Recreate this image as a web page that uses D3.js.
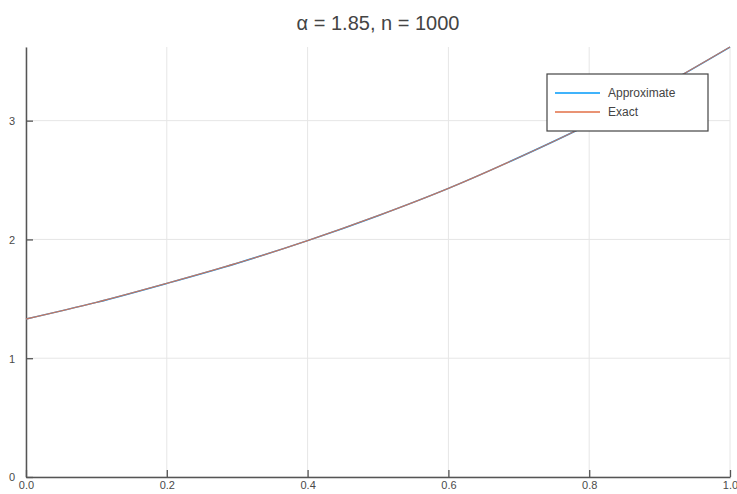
<!DOCTYPE html>
<html>
<head>
<meta charset="utf-8">
<script src="https://cdn.jsdelivr.net/npm/d3@7"></script>
<style>
  body { margin: 0; background: #fff; }
  text { font-family: "Liberation Sans", Arial, sans-serif; fill: #444; }
</style>
</head>
<body>
<script>
var width = 737, height = 494;
var margin = { top: 47, right: 7, bottom: 17, left: 26 };

// values
var xs = [0, 0.1, 0.2, 0.3, 0.4, 0.5, 0.6, 0.7, 0.8, 0.9, 1.0];
var approximate = [1.33, 1.47, 1.63, 1.80, 1.99, 2.20, 2.43, 2.69, 2.97, 3.28, 3.62];
var exact = [1.33, 1.47, 1.63, 1.80, 1.99, 2.20, 2.43, 2.69, 2.97, 3.28, 3.62];
var xTicks = [0, 0.2, 0.4, 0.6, 0.8, 1.0];
var yTicks = [0, 1, 2, 3];
var seriesNames = ['Approximate', 'Exact'];
var seriesColors = ['#009afa', '#e26f46'];

var svg = d3.select('body').append('svg')
  .attr('width', width)
  .attr('height', height);

var x = d3.scaleLinear().domain([0, 1]).range([margin.left, width - margin.right]);
var y = d3.scaleLinear().domain([0, 3.62]).range([height - margin.bottom, margin.top]);

// grid
svg.append('g').selectAll('line.gx')
  .data(xTicks).enter().append('line')
  .attr('x1', d => x(d)).attr('x2', d => x(d))
  .attr('y1', y(0)).attr('y2', margin.top)
  .attr('stroke', '#e6e6e6').attr('stroke-width', 1);
svg.append('g').selectAll('line.gy')
  .data(yTicks).enter().append('line')
  .attr('x1', x(0)).attr('x2', x(1))
  .attr('y1', d => y(d)).attr('y2', d => y(d))
  .attr('stroke', '#e6e6e6').attr('stroke-width', 1);

// axes
var xAxis = d3.axisBottom(x).tickValues(xTicks).tickFormat(d3.format('.1f')).tickSizeInner(-7).tickSizeOuter(0);
var yAxis = d3.axisLeft(y).tickValues(yTicks).tickFormat(d3.format('d')).tickSizeInner(-7).tickSizeOuter(0);

var gx = svg.append('g').attr('transform', 'translate(0,' + y(0) + ')').call(xAxis);
gx.selectAll('text').attr('dy', null).attr('y', 12).style('font-size', '11px').style('fill', '#4a4a4a');
var gy = svg.append('g').attr('transform', 'translate(' + x(0) + ',0)').call(yAxis);
gy.selectAll('text').attr('x', -11).attr('dy', '0.35em').style('font-size', '11px').style('fill', '#4a4a4a');
svg.selectAll('.domain').attr('stroke', '#555').attr('stroke-width', 1.5);
svg.selectAll('.tick line').attr('stroke', '#555').attr('stroke-width', 1.3);

// lines
var line = d3.line()
  .x(function(d, i) { return x(xs[i]); })
  .y(function(d) { return y(d); })
  .curve(d3.curveMonotoneX);

svg.append('path').datum(approximate)
  .attr('d', line).attr('fill', 'none')
  .attr('stroke', seriesColors[0]).attr('stroke-width', 1.5);
svg.append('path').datum(exact)
  .attr('d', line).attr('fill', 'none')
  .attr('stroke', seriesColors[1]).attr('stroke-width', 1.3).attr('stroke-opacity', 0.85);

// title
svg.append('text')
  .attr('x', (margin.left + width - margin.right) / 2)
  .attr('y', 30)
  .attr('text-anchor', 'middle')
  .style('font-size', '20px')
  .text('\u03b1 = 1.85, n = 1000');

// legend
var lg = svg.append('g').attr('transform', 'translate(547,74)');
lg.append('rect').attr('width', 161).attr('height', 57)
  .attr('fill', '#fff').attr('stroke', '#444').attr('stroke-width', 1.2);
seriesNames.forEach(function(name, i) {
  var yy = 19 + i * 19;
  lg.append('line').attr('x1', 8).attr('x2', 53).attr('y1', yy).attr('y2', yy)
    .attr('stroke', seriesColors[i]).attr('stroke-width', 1.3);
  lg.append('text').attr('x', 61).attr('y', yy).attr('dy', '0.35em')
    .style('font-size', '12px').text(name);
});
</script>
</body>
</html>
